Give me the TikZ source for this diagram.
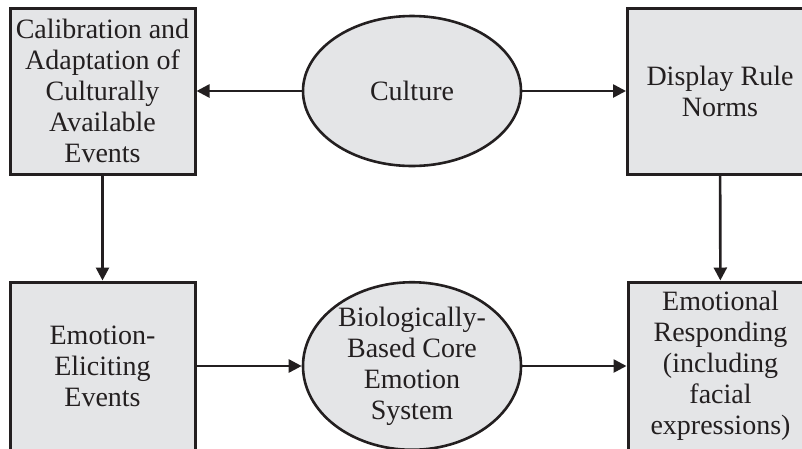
\documentclass[tikz,border=0pt]{standalone}
\usepackage{fontspec}
\setmainfont{Liberation Serif}
\usepackage{tikz}
\usetikzlibrary{arrows.meta,shapes.geometric}
\definecolor{boxgray}{HTML}{E4E5E7}
\definecolor{inkblack}{HTML}{231F20}
\tikzset{
	stagebox/.style={draw=inkblack, fill=boxgray, line width=3pt, minimum width=185pt, minimum height=166pt, align=center, inner sep=0pt},
	corebox/.style={ellipse, draw=inkblack, fill=boxgray, line width=2.6pt, minimum width=218pt, minimum height=150pt, align=center, inner sep=0pt},
	link/.style={draw=inkblack, line width=2.6pt, -{Triangle[length=13pt,width=13pt]}}
}

\begin{document}
\begin{tikzpicture}[x=1pt, y=-1pt, font=\fontsize{28}{31}\selectfont, text=inkblack]
		%%%%% START %%%%%
		\useasboundingbox (0, 0) rectangle (802, 448);
		
		\node[stagebox] (calib) at (102.5, 91) {Calibration and\\Adaptation of\\Culturally\\Available\\Events};
		\node[corebox] (culture) at (412, 91) {Culture};
		\node[stagebox] (norms) at (720, 91) {Display Rule\\Norms};
		
		\node[stagebox, minimum height=168pt] (elicit) at (102.5, 366) {Emotion-\\Eliciting\\Events};
		\node[corebox, minimum height=152pt] (core) at (412, 366) {Biologically-\\Based Core\\Emotion\\System};
		\node[stagebox, minimum height=168pt] (respond) at (720.5, 366) {Emotional\\Responding\\(including\\facial\\expressions)};
		
		\draw[link] (culture) -- (calib);
		\draw[link] (culture) -- (norms);
		\draw[link] (calib) -- (elicit);
		\draw[link] (norms) -- (respond);
		\draw[link] (elicit) -- (core);
		\draw[link] (core) -- (respond);
		%%%%% END %%%%%
	\end{tikzpicture}
\end{document}
